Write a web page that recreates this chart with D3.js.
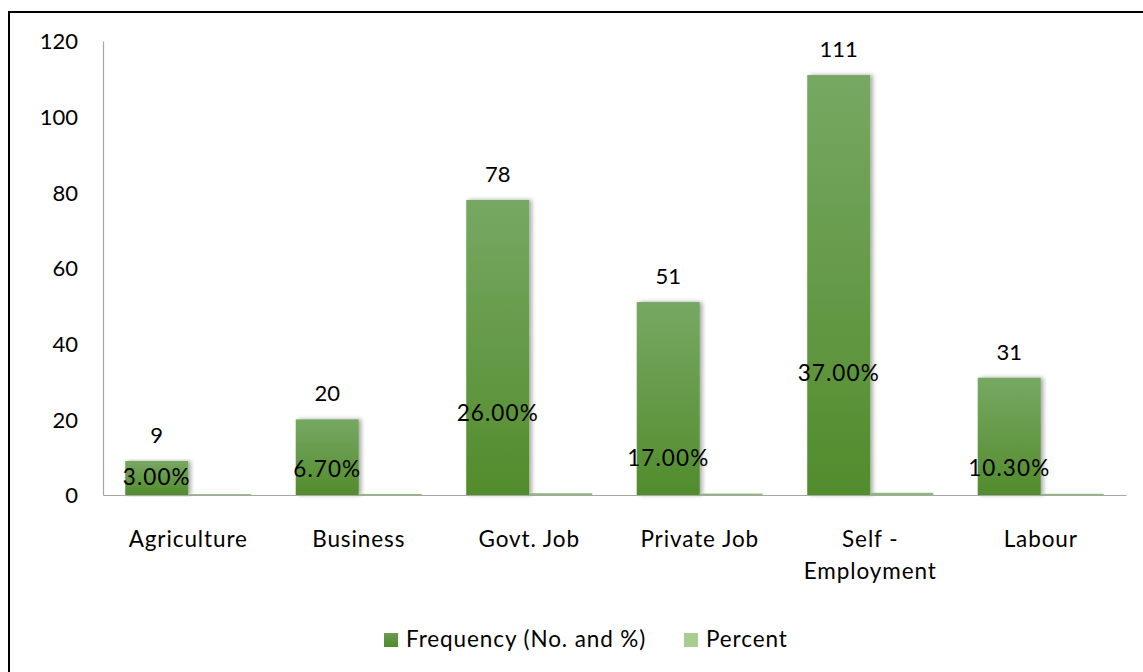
<!DOCTYPE html>
<html>
<head>
<meta charset="utf-8">
<script src="https://cdn.jsdelivr.net/npm/d3@7/dist/d3.min.js"></script>
<style>
  html, body { margin: 0; padding: 0; background: #fff; }
  svg { display: block; }
  text { font-family: Lato, "Open Sans", sans-serif; fill: #000; }
</style>
</head>
<body>
<svg id="chart" width="1143" height="672"></svg>
<script>
// Occupation of respondents: count and share
const categories = ["Agriculture", "Business", "Govt. Job", "Private Job", "Self - Employment", "Labour"];
const frequency = [9, 20, 78, 51, 111, 31];
const percent = [0.03, 0.067, 0.26, 0.17, 0.37, 0.103];
const yTicks = [0, 20, 40, 60, 80, 100, 120];
const seriesNames = ["Frequency (No. and %)", "Percent"];

// Height (in axis units) at which each percent label sits inside its frequency bar
const pctLabelLevel = [4.8, 6.9, 21.7, 9.8, 32.3, 7.2];

const W = 1143, H = 672;
const svg = d3.select("#chart");
const defs = svg.append("defs");

const grad = defs.append("linearGradient")
  .attr("id", "freqFill").attr("x1", 0).attr("y1", 0).attr("x2", 0).attr("y2", 1);
grad.append("stop").attr("offset", "0%").attr("stop-color", "#77a863");
grad.append("stop").attr("offset", "100%").attr("stop-color", "#528c2c");

const shadow = defs.append("filter").attr("id", "barShadow")
  .attr("x", "-20%").attr("y", "-5%").attr("width", "150%").attr("height", "110%");
shadow.append("feDropShadow").attr("dx", 2.5).attr("dy", 0)
  .attr("stdDeviation", 2).attr("flood-color", "#000").attr("flood-opacity", 0.35);

// Outer frame
svg.append("rect")
  .attr("x", 9).attr("y", 12).attr("width", W).attr("height", H)
  .attr("fill", "none").attr("stroke", "#000").attr("stroke-width", 2);

const x0 = d3.scaleBand().domain(categories).range([103, 1126]).paddingInner(0).paddingOuter(0);
const x1 = d3.scaleBand().domain(seriesNames).range([0, x0.bandwidth()])
  .paddingInner(0).paddingOuter(0.353);
const y = d3.scaleLinear().domain([0, 120]).range([495, 41]);

// Y axis labels
const yAxis = svg.append("g").attr("transform", "translate(103,0)")
  .call(d3.axisLeft(y).tickValues(yTicks).tickSize(0).tickPadding(25));
yAxis.select(".domain").attr("stroke", "#a6a6a6").attr("stroke-width", 1.2);
yAxis.selectAll("text").attr("font-size", 22).attr("font-family", "Lato, sans-serif")
  .attr("fill", "#000").attr("dy", "0.35em");

const rows = categories.map((c, i) => ({ c, f: frequency[i], p: percent[i], lv: pctLabelLevel[i] }));

const groups = svg.append("g").selectAll("g").data(rows).join("g")
  .attr("transform", d => `translate(${x0(d.c)},0)`);

// Frequency bars
groups.append("rect")
  .attr("x", x1(seriesNames[0]))
  .attr("width", x1.bandwidth())
  .attr("y", d => y(d.f))
  .attr("height", d => y(0) - y(d.f))
  .attr("fill", "url(#freqFill)")
  .attr("filter", "url(#barShadow)");

// Percent bars (fractions on the same axis, so they lie flat on the baseline)
groups.append("rect")
  .attr("x", x1(seriesNames[1]))
  .attr("width", x1.bandwidth())
  .attr("y", d => y(d.p) - 0.8)
  .attr("height", d => y(0) - y(d.p) + 0.8)
  .attr("fill", "#8fb879");

// X axis line
const xAxis = svg.append("g").attr("transform", `translate(0,${y(0)})`)
  .call(d3.axisBottom(x0).tickSize(0).tickFormat(""));
xAxis.select(".domain").attr("stroke", "#a6a6a6").attr("stroke-width", 1.2);

// Category labels (wrap on the space after a hyphen)
groups.append("text")
  .attr("text-anchor", "middle")
  .attr("font-size", 22.5)
  .attr("letter-spacing", 0.9)
  .each(function (d) {
    const parts = d.c.includes(" - ") ? [d.c.split(" - ")[0] + " -", d.c.split(" - ")[1]] : [d.c];
    const t = d3.select(this);
    parts.forEach((p, k) => {
      t.append("tspan").attr("x", x0.bandwidth() / 2).attr("y", 547 + k * 32).text(p);
    });
  });

// Frequency value labels
groups.append("text")
  .attr("text-anchor", "middle")
  .attr("font-size", 22)
  .attr("x", x1(seriesNames[0]) + x1.bandwidth() / 2)
  .attr("y", d => y(d.f) - 18)
  .text(d => d.f);

// Percent value labels
groups.append("text")
  .attr("text-anchor", "middle")
  .attr("font-size", 22.5)
  .attr("letter-spacing", 1.1)
  .attr("dy", "0.35em")
  .attr("x", x1(seriesNames[0]) + x1.bandwidth() / 2)
  .attr("y", d => y(d.lv))
  .text(d => d3.format(".2%")(d.p));

// Legend
const legendGrad = defs.append("linearGradient")
  .attr("id", "legFill").attr("x1", 0).attr("y1", 0).attr("x2", 0).attr("y2", 1);
legendGrad.append("stop").attr("offset", "0%").attr("stop-color", "#6a9c50");
legendGrad.append("stop").attr("offset", "100%").attr("stop-color", "#4f8a2c");

const legendColors = ["url(#legFill)", "#a7cd92"];
const legendX = [384, 684];
const legend = svg.append("g").selectAll("g").data(seriesNames).join("g")
  .attr("transform", (d, i) => `translate(${legendX[i]},633)`);
legend.append("rect").attr("width", 14).attr("height", 14)
  .attr("fill", (d, i) => legendColors[i]);
legend.append("text").attr("x", 22).attr("y", 6).attr("dy", "0.35em")
  .attr("font-size", 22.5).attr("letter-spacing", 0.9).text(d => d);
</script>
</body>
</html>
